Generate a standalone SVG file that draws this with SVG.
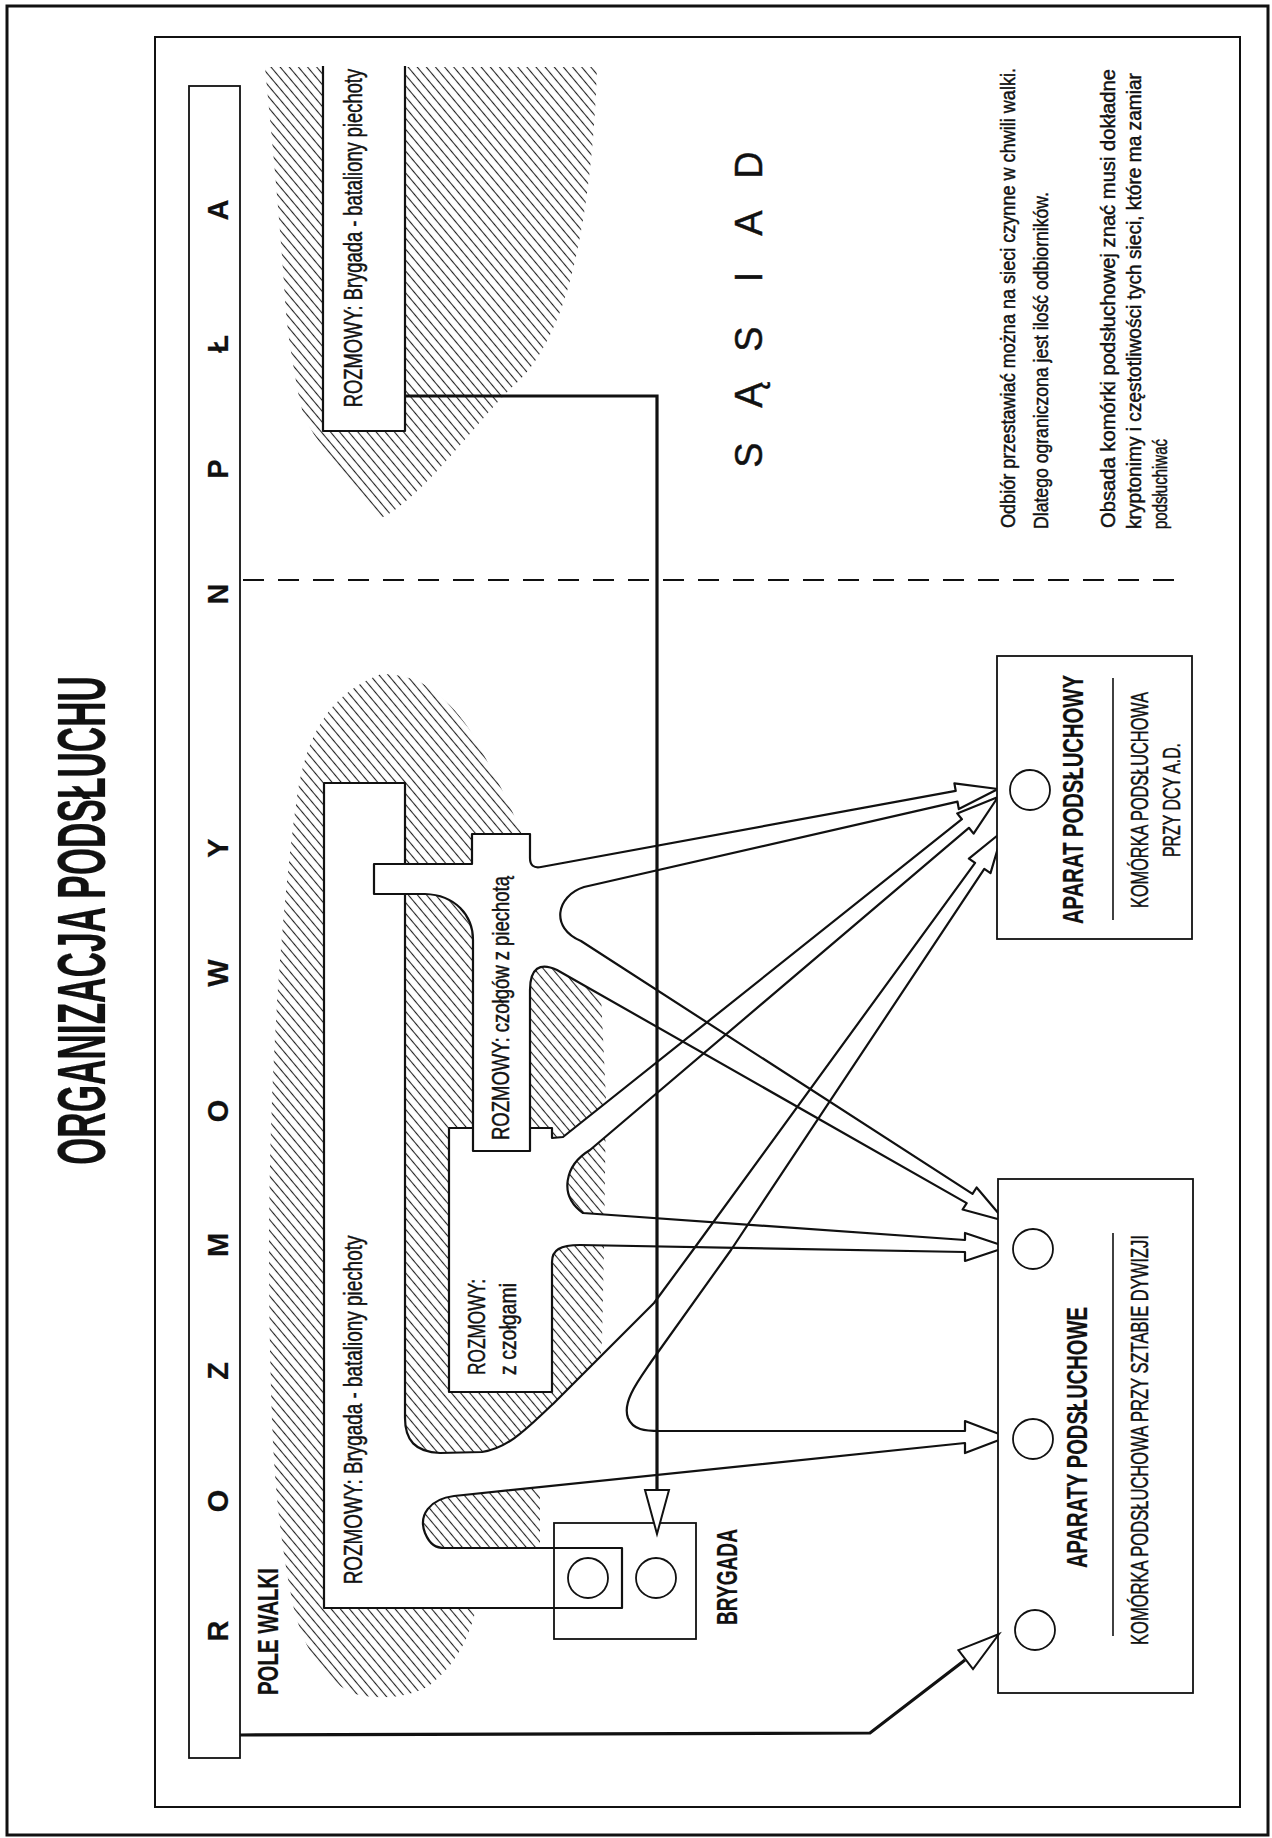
<svg xmlns="http://www.w3.org/2000/svg" width="1272" height="1838" viewBox="0 0 1272 1838">
<style>
.t{font-family:"Liberation Sans",Arial,sans-serif;fill:#111;stroke:#111;stroke-width:0.45}
.b{font-weight:bold;stroke-width:0.2}
.ln{fill:none;stroke:#111;stroke-width:2.2;stroke-linejoin:round}
.bx{fill:#fff;stroke:#111;stroke-width:1.8}
.wf{fill:#fff;stroke:none}
.conn{fill:none;stroke:#111;stroke-width:3.2}
.head{fill:#fff;stroke:#111;stroke-width:2;stroke-linejoin:miter}
.sep{stroke:#111;stroke-width:1.6}
</style>
<defs>
<pattern id="hatch" patternUnits="userSpaceOnUse" width="7" height="7" patternTransform="rotate(-40)">
<line x1="3.5" y1="0" x2="3.5" y2="7" stroke="#222" stroke-width="1.1"/>
</pattern>
<path id="shapeL" d="M324,783 H405 V1418 C405,1440 415,1452 440,1453 L482,1452 C510,1448 530,1425 553,1404 L654,1303 L693,1250 L975.1,862.8 L968.9,858.7 L1003,831 L990.5,873.1 L984.3,868.9 L731,1250 L651,1362 C638,1381 622,1402 628,1418 C633,1430 645,1431 660,1431 L965,1431 L965,1421 L1007,1437 L965,1453 L965,1443 L454,1496 C430,1499 418,1515 425,1533 C430,1545 436,1548 445,1548 H622 V1608 H324 Z"/>
<path id="shapeT" d="M472,834 H530 V858 Q530,869 541,867 L955.7,790.8 L954.4,783.4 L998,789 L958.8,809 L957.5,801.6 L584,887 C556,896 550,928 581,941 L972.5,1193.9 L976.6,1187.5 L1005,1221 L962.6,1209.5 L966.7,1203.1 L557,970 C540,962 530,968 530,990 V1151 H473 V940 C473,915 455,895 425,894 H374 V864 H472 Z"/>
<path id="shapeZ" d="M449,1128 H552 V1138 L563,1137 L961.9,819.2 L957.2,813.4 L998,797 L973.6,833.6 L968.9,827.8 L590,1150 C565,1165 558,1195 583,1213 L965,1240 L965,1233 L1007,1247 L965,1261 L965,1252 L580,1245 C560,1245 552,1250 552,1262 V1392 H449 Z"/>
</defs>

<rect x="0" y="0" width="1272" height="1838" fill="#fff"/>

<g id="frame">
<rect x="7" y="6" width="1261" height="1829" fill="none" stroke="#111" stroke-width="3"/>
<rect x="155" y="37" width="1085" height="1770" fill="none" stroke="#111" stroke-width="2"/>
</g>

<g id="title">
<text class="t b" transform="translate(105,920.5) rotate(-90)" text-anchor="middle" font-size="68" textLength="489" lengthAdjust="spacingAndGlyphs">ORGANIZACJA PODSŁUCHU</text>
</g>

<g id="hatching">
<path d="M265,67 L597,67 C594,170 580,260 560,312 C545,350 530,372 511,388 C470,430 420,500 381,518 C360,495 345,480 341,469 C320,445 305,425 300,402 C292,360 287,330 285,300 C280,220 272,140 265,67 Z" fill="url(#hatch)"/>
<path d="M381,674 C395,674 405,676 420,682 C450,700 470,725 486,759 C500,785 510,805 521,832 L531,868 L548,900 L553,940 L600,975 L606,1100 L604,1250 L602,1340 C598,1400 585,1440 560,1470 L540,1488 L540,1548 L478,1600 C470,1640 455,1665 430,1685 C410,1698 380,1700 355,1694 C320,1680 300,1640 292,1600 C280,1540 274,1480 272,1420 C268,1300 268,1200 272,1100 C276,1000 285,880 298,790 C310,720 340,690 381,674 Z" fill="url(#hatch)"/>
</g>

<g id="masks">
<use href="#shapeL" class="wf"/>
<use href="#shapeT" class="wf"/>
<use href="#shapeZ" class="wf"/>
<rect x="323" y="66" width="82" height="365" class="wf"/>
</g>

<g id="strip">
<rect x="189" y="86" width="51" height="1672" class="bx"/>
<g class="t b" font-size="29" text-anchor="middle">
<text transform="translate(228,1631) rotate(-90)">R</text>
<text transform="translate(228,1501) rotate(-90)">O</text>
<text transform="translate(228,1371) rotate(-90)">Z</text>
<text transform="translate(228,1245) rotate(-90)">M</text>
<text transform="translate(228,1111) rotate(-90)">O</text>
<text transform="translate(228,973) rotate(-90)">W</text>
<text transform="translate(228,848) rotate(-90)">Y</text>
<text transform="translate(228,594) rotate(-90)">N</text>
<text transform="translate(228,469) rotate(-90)">P</text>
<text transform="translate(228,344) rotate(-90)">Ł</text>
<text transform="translate(228,210) rotate(-90)">A</text>
</g>
<text class="t b" transform="translate(278,1631.5) rotate(-90)" text-anchor="middle" font-size="29" textLength="127" lengthAdjust="spacingAndGlyphs">POLE WALKI</text>
</g>

<g id="divider">
<line x1="243" y1="580" x2="1180" y2="580" stroke="#111" stroke-width="2" stroke-dasharray="21 14"/>
</g>

<g id="rozmowy-top">
<path d="M323,66 V431 H405 V66" class="ln" stroke-width="2"/>
<text class="t" transform="translate(362,238) rotate(-90) scale(0.734,1)" text-anchor="middle" font-size="25" stroke-width="0.6">ROZMOWY: Brygada - bataliony piechoty</text>
</g>

<g id="rozmowy-brygada">
<path d="M405,894 V1418 C405,1440 415,1452 440,1453 L482,1452 C510,1448 530,1425 553,1404 L654,1303 L693,1250 L975.1,862.8 L968.9,858.7 L1003,831 L990.5,873.1 L984.3,868.9 L731,1250 L651,1362 C638,1381 622,1402 628,1418 C633,1430 645,1431 660,1431 L965,1431 L965,1421 L1007,1437 L965,1453 L965,1443 L454,1496 C430,1499 418,1515 425,1533 C430,1545 436,1548 445,1548 H622 V1608 H324 V783 H405 V864" class="ln"/>
<text class="t" transform="translate(362,1410) rotate(-90) scale(0.756,1)" text-anchor="middle" font-size="25" stroke-width="0.6">ROZMOWY: Brygada - bataliony piechoty</text>
</g>

<g id="rozmowy-czolgi">
<path d="M473,1128 H449 V1392 H552 V1262 C552,1250 560,1245 580,1245 L965,1252 L965,1261 L1007,1247 L965,1233 L965,1240 L583,1213 C558,1195 565,1165 590,1150 L968.9,827.8 L973.6,833.6 L998,797 L957.2,813.4 L961.9,819.2 L563,1137 L552,1138 V1128 H530" class="ln"/>
<text class="t" transform="translate(485,1327) rotate(-90)" text-anchor="middle" font-size="24" textLength="96" lengthAdjust="spacingAndGlyphs">ROZMOWY:</text>
<text class="t" transform="translate(516,1329) rotate(-90)" text-anchor="middle" font-size="24" textLength="92" lengthAdjust="spacingAndGlyphs">z czołgami</text>
</g>

<g id="rozmowy-czolgow-z-piechota">
<use href="#shapeT" class="ln"/>
<text class="t" transform="translate(509,1008) rotate(-90)" text-anchor="middle" font-size="24" textLength="264" lengthAdjust="spacingAndGlyphs">ROZMOWY: czołgów z piechotą</text>
</g>

<g id="brygada">
<rect x="554" y="1523" width="142" height="116" class="bx" fill-opacity="0"/>
<circle cx="588" cy="1578" r="20" class="bx"/>
<circle cx="656" cy="1578" r="20" class="bx"/>
<text class="t b" transform="translate(737,1577) rotate(-90)" text-anchor="middle" font-size="30" textLength="96" lengthAdjust="spacingAndGlyphs">BRYGADA</text>
</g>

<g id="sasiad" class="t" font-size="38" text-anchor="middle">
<text transform="translate(762,455) rotate(-90)">S</text>
<text transform="translate(762,395) rotate(-90)">Ą</text>
<text transform="translate(762,339) rotate(-90)">S</text>
<text transform="translate(762,277) rotate(-90)">I</text>
<text transform="translate(762,223) rotate(-90)">A</text>
<text transform="translate(762,165) rotate(-90)">D</text>
</g>

<g id="notes" class="t" font-size="20" text-anchor="middle">
<text transform="translate(1015,298) rotate(-90)" textLength="460" lengthAdjust="spacingAndGlyphs">Odbiór przestawiać można na sieci czynne w chwili walki.</text>
<text transform="translate(1048,360.5) rotate(-90)" textLength="337" lengthAdjust="spacingAndGlyphs">Dlatego ograniczona jest ilość odbiorników.</text>
<text transform="translate(1115,298.5) rotate(-90)" textLength="459" lengthAdjust="spacingAndGlyphs">Obsada komórki podsłuchowej znać musi dokładne</text>
<text transform="translate(1141,301) rotate(-90)" textLength="456" lengthAdjust="spacingAndGlyphs">kryptonimy i częstotliwości tych sieci, które ma zamiar</text>
<text transform="translate(1167,484) rotate(-90)" textLength="90" lengthAdjust="spacingAndGlyphs">podsłuchiwać</text>
</g>

<g id="aparat-podsluchowy">
<rect x="997" y="656" width="195" height="283" class="bx"/>
<circle cx="1030" cy="790" r="20" class="bx"/>
<text class="t b" transform="translate(1083,799.5) rotate(-90)" text-anchor="middle" font-size="30" textLength="249" lengthAdjust="spacingAndGlyphs">APARAT PODSŁUCHOWY</text>
<line x1="1113" y1="678" x2="1113" y2="920" class="sep"/>
<text class="t" transform="translate(1148,800) rotate(-90)" text-anchor="middle" font-size="24" textLength="216" lengthAdjust="spacingAndGlyphs">KOMÓRKA PODSŁUCHOWA</text>
<text class="t" transform="translate(1180,800) rotate(-90)" text-anchor="middle" font-size="24" textLength="114" lengthAdjust="spacingAndGlyphs">PRZY DCY A.D.</text>
</g>

<g id="aparaty-podsluchowe">
<rect x="998" y="1179" width="195" height="514" class="bx"/>
<circle cx="1033" cy="1249" r="20" class="bx"/>
<circle cx="1033" cy="1439" r="20" class="bx"/>
<circle cx="1035" cy="1630" r="20" class="bx"/>
<text class="t b" transform="translate(1087,1437.5) rotate(-90)" text-anchor="middle" font-size="30" textLength="261" lengthAdjust="spacingAndGlyphs">APARATY PODSŁUCHOWE</text>
<line x1="1113" y1="1233" x2="1113" y2="1636" class="sep"/>
<text class="t" transform="translate(1148,1440) rotate(-90)" text-anchor="middle" font-size="24" textLength="410" lengthAdjust="spacingAndGlyphs">KOMÓRKA PODSŁUCHOWA PRZY SZTABIE DYWIZJI</text>
</g>

<g id="connectors">
<path d="M405,396 H657 V1492" class="conn"/>
<polygon points="645,1490 669,1490 657,1534" class="head"/>
<path d="M240,1735 L870,1733 L965,1660" class="conn"/>
<polygon points="958.4,1650.1 973,1669.1 999,1634" class="head"/>
</g>
</svg>
